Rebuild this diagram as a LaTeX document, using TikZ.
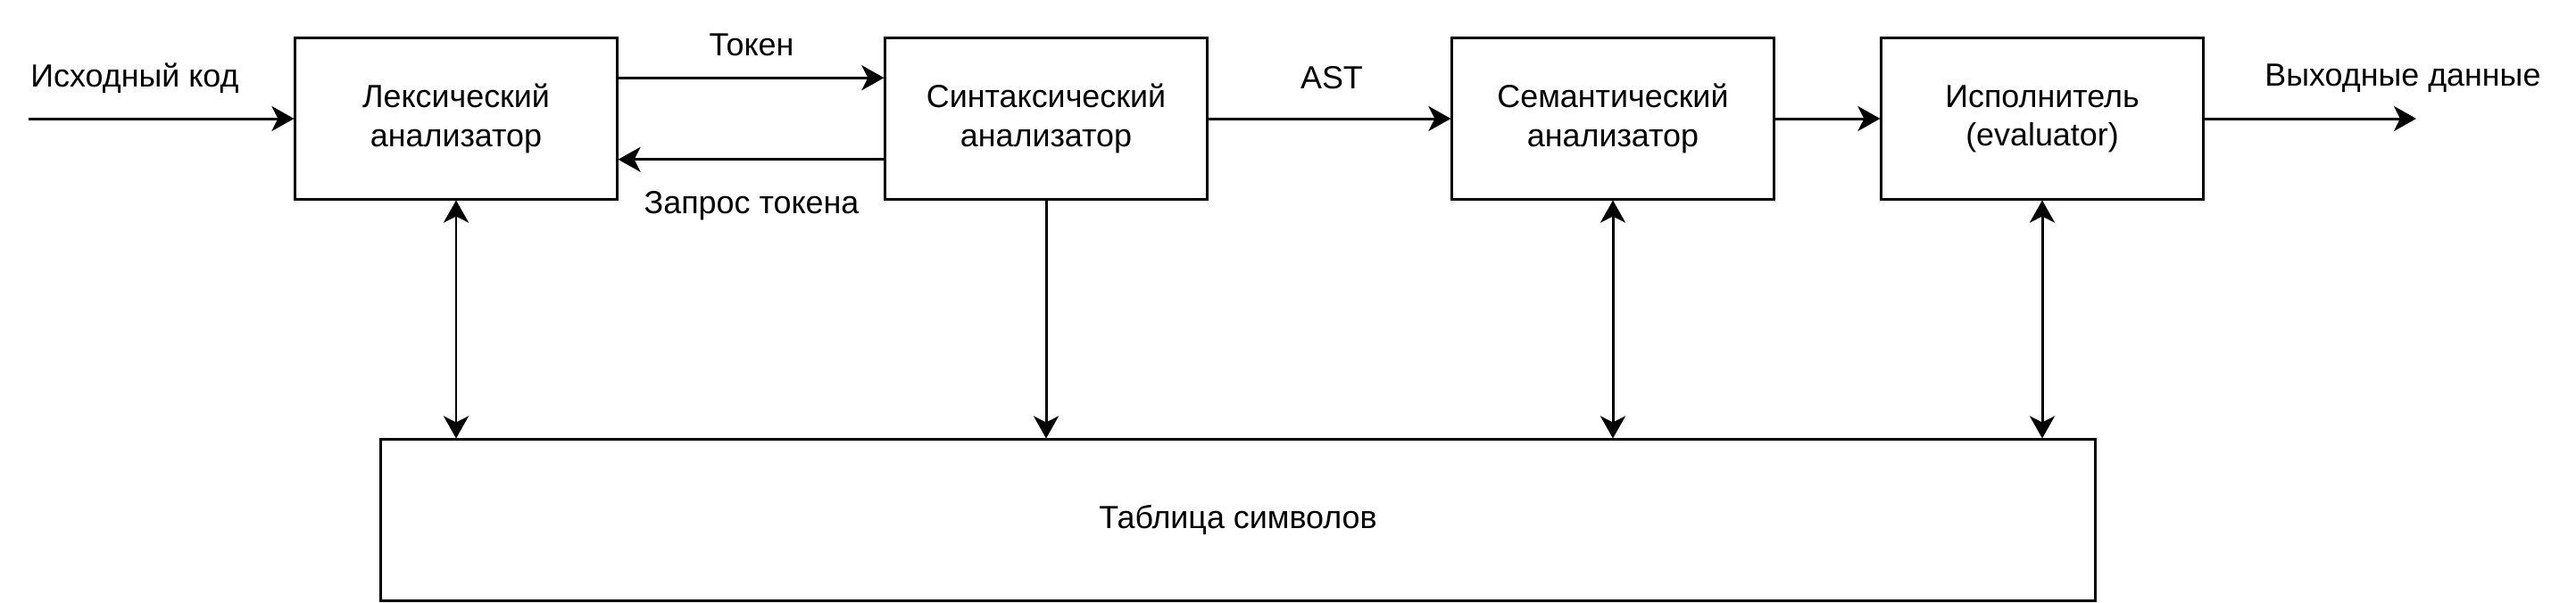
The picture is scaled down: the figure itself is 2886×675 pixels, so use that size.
\documentclass[tikz,border=0pt]{standalone}
\usepackage{fontspec}
\setmainfont{Liberation Sans}
\usetikzlibrary{arrows.meta,calc}

\tikzset{
  block/.style={draw, line width=0.85pt, minimum width=3.6cm, minimum height=1.8cm,
    align=center, inner sep=0pt},
  lbl/.style={inner sep=0pt},
  arr/.style={line width=0.85pt, -{Stealth[length=0.25cm, width=0.28cm, inset=0.07cm]}},
  dbl/.style={line width=0.85pt, {Stealth[length=0.25cm, width=0.28cm, inset=0.07cm]}-{Stealth[length=0.25cm, width=0.28cm, inset=0.07cm]}}
}

\begin{document}
\begin{tikzpicture}[x=0.01cm, y=-0.01cm, font=\fontsize{10.2}{12.3}\selectfont]
\useasboundingbox (0,0) rectangle (2886,675);

% blocks
\node[block] (lex) at (511,133) {Лексический\\анализатор};
\node[block] (syn) at (1172,133) {Синтаксический\\анализатор};
\node[block] (sem) at (1807,133) {Семантический\\анализатор};
\node[block] (eval) at (2288,133) {Исполнитель\\(evaluator)};
\node[block, minimum width=19.2cm] (tab) at (1387,583) {Таблица символов};

% free ends
\coordinate (src) at (32,133);
\coordinate (dst) at (2707,133);

% labels
\node[lbl] (srclbl) at (151,88) {Исходный код};
\node[lbl] (toklbl) at (842,50) {Токен};
\node[lbl] (reqlbl) at (842,231) {Запрос токена};
\node[lbl] (astlbl) at (1492,87) {AST};
\node[lbl] (dstlbl) at (2692,88) {Выходные данные};

% pipeline
\draw[arr] (src) -- (lex);
\draw[arr] ($(lex.north east)!0.25!(lex.south east)$) -- ($(syn.north west)!0.25!(syn.south west)$);
\draw[arr] ($(syn.north west)!0.75!(syn.south west)$) -- ($(lex.north east)!0.75!(lex.south east)$);
\draw[arr] (syn) -- (sem);
\draw[arr] (sem) -- (eval);
\draw[arr] (eval) -- (dst);

% symbol table
\draw[dbl] (lex.south) -- (lex |- tab.north);
\draw[arr] (syn.south) -- (syn |- tab.north);
\draw[dbl] (sem.south) -- (sem |- tab.north);
\draw[dbl] (eval.south) -- (eval |- tab.north);
\end{tikzpicture}
\end{document}
